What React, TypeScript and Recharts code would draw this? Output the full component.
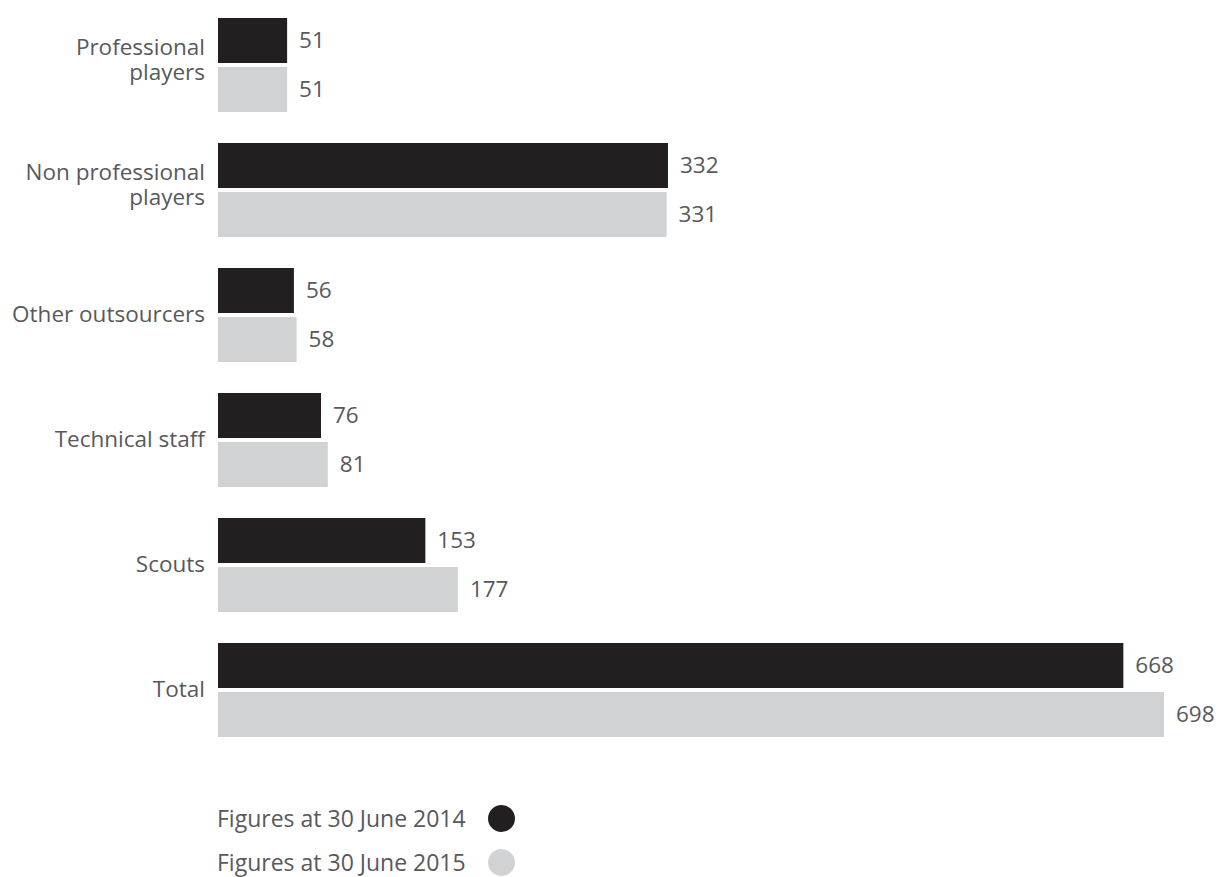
import { BarChart, Bar, XAxis, YAxis, LabelList } from "recharts";

const categories = [
  "Professional\nplayers",
  "Non professional\nplayers",
  "Other outsourcers",
  "Technical staff",
  "Scouts",
  "Total",
];
const values2014 = [51, 332, 56, 76, 153, 668];
const values2015 = [51, 331, 58, 81, 177, 698];
const seriesNames = ["Figures at 30 June 2014", "Figures at 30 June 2015"];

const DARK = "#231f20";
const LIGHT = "#d1d2d4";
const TEXT = "#58595b";
const FONT = "'Open Sans', 'Noto Sans', sans-serif";

const data = categories.map((c, i) => ({
  name: c,
  y2014: values2014[i],
  y2015: values2015[i],
}));

// category label, may span two lines
function CategoryTick(props: any) {
  const { x, y, payload } = props;
  const lines = String(payload.value).split("\n");
  const lh = 25;
  const start = y - ((lines.length - 1) * lh) / 2 - (lines.length > 1 ? 5 : 0);
  return (
    <text x={x} y={start} textAnchor="end" fill={TEXT} fontSize={22.5} fontFamily={FONT}>
      {lines.map((l, i) => (
        <tspan key={i} x={x} y={start + i * lh} dy="0.35em">
          {l}
        </tspan>
      ))}
    </text>
  );
}

export default function App() {
  return (
    <div style={{ position: "absolute", left: 0, top: 0, width: 1219, height: 877, background: "#fff" }}>
      <BarChart
        width={1219}
        height={760}
        data={data}
        layout="vertical"
        barSize={45}
        barGap={4}
        margin={{ top: 2, right: 55, bottom: 8, left: 0 }}
      >
        <XAxis type="number" domain={[0, 698]} hide />
        <YAxis
          type="category"
          dataKey="name"
          width={218}
          axisLine={false}
          tickLine={false}
          tickSize={0}
          tickMargin={13}
          interval={0}
          tick={<CategoryTick />}
        />
        <Bar dataKey="y2014" fill={DARK} isAnimationActive={false}>
          <LabelList dataKey="y2014" position="right" offset={12} fill={TEXT} fontSize={22.5} fontFamily={FONT} />
        </Bar>
        <Bar dataKey="y2015" fill={LIGHT} isAnimationActive={false}>
          <LabelList dataKey="y2015" position="right" offset={12} fill={TEXT} fontSize={22.5} fontFamily={FONT} />
        </Bar>
      </BarChart>
      {/* legend */}
      {seriesNames.map((n, i) => (
        <div
          key={n}
          style={{
            position: "absolute",
            left: 217,
            top: 805 + i * 44,
            height: 27,
            display: "flex",
            alignItems: "center",
            fontFamily: FONT,
            fontSize: 23,
            lineHeight: "27px",
            color: TEXT,
          }}
        >
          <span>{n}</span>
          <span
            style={{
              display: "inline-block",
              width: 27,
              height: 27,
              borderRadius: "50%",
              background: i === 0 ? DARK : LIGHT,
              marginLeft: 22,
            }}
          />
        </div>
      ))}
    </div>
  );
}
